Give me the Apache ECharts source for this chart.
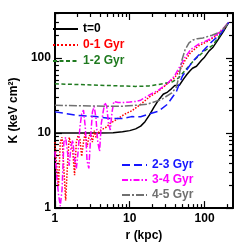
<!DOCTYPE html>
<html><head><meta charset="utf-8">
<script src="https://cdn.jsdelivr.net/npm/echarts@6/dist/echarts.min.js"></script>
<style>html,body{margin:0;padding:0;background:#fff}#c{width:247px;height:247px}</style>
</head><body><div id="c"></div>
<script>
// series names
const seriesNames = ['t=0', '0-1 Gyr', '1-2 Gyr', '2-3 Gyr', '3-4 Gyr', '4-5 Gyr'];
// tick values
const xMajor = [1, 10, 100];
const xMinor = [2, 3, 4, 5, 6, 7, 8, 9, 20, 30, 40, 50, 60, 70, 80, 90, 200];
const yMajor = [1, 10, 100];
const yMinor = [2, 3, 4, 5, 6, 7, 8, 9, 20, 30, 40, 50, 60, 70, 80, 90, 200, 300, 400];
// data: [r (kpc), K (keV cm^2)]
const t0 = [[1,10],[2,10],[4,10],[6,10.1],[8,10.4],[10,10.8],[12,11.4],[14,12.4],[16,14.2],[18.4,17.5],[21,22],[24.2,27.5],[28,33],[32,35.3],[36,39],[40,43.2],[46,43.5],[52,52],[58,60.6],[64,68],[69,73.3],[78,78],[91,93.6],[100,103],[115,125],[130,140],[151,175],[180,230],[210,300]];
const gyr01 = [[1.0,7.6],[1.056,3.68],[1.116,1.95],[1.179,7.6],[1.246,8.8],[1.316,3.38],[1.391,1.26],[1.469,3.68],[1.552,8.8],[1.64,9.3],[1.733,5.7],[1.83,2.75],[1.934,7.6],[2.043,9.3],[2.159,8.3],[2.28,4.9],[2.409,7.6],[2.545,10.1],[2.689,6.6],[2.841,8.8],[3.001,10.1],[3.171,7.6],[3.35,10.75],[3.539,8.8],[3.951,10.75],[4.41,11.4],[4.922,12.1],[5.494,13.6],[6.13,14.4],[7.23,16.1],[8.76,18.1],[10.6,19.8],[14,24.2],[18.4,30.5],[24.2,36.3],[31.9,45.8],[39.7,54.5],[48.2,72.7],[55.2,94.4],[65.1,119],[83.4,146],[110,168],[144.5,200],[180,245],[210,300]];
const gyr12 = [[1,45.4],[2,44.5],[4,43.5],[8,42.5],[12,42],[18,42.5],[28.6,45.8],[37.6,48.5],[45.5,55],[56.7,71],[72.6,94],[83,106],[100,125],[130,150],[165,210],[210,300]];
const gyr23 = [[1,19.2],[2.04,17.2],[3.54,16.6],[5.6,15.7],[8.07,15.7],[10.6,16.6],[14,16.5],[18.4,18.1],[24.2,19.6],[31.8,24.2],[41.9,35.6],[50.6,57.7],[58,70],[68.5,89],[83,109],[100,131],[126,167],[165,212],[210,300]];
const gyr34 = [[1.0,5.7],[1.056,2.75],[1.116,1.54],[1.179,1.06],[1.246,1.78],[1.316,7.6],[1.391,8.8],[1.469,5.7],[1.552,3.68],[1.64,6.6],[1.733,8.05],[1.83,4.5],[1.934,3.38],[2.043,5.7],[2.159,12.1],[2.28,18.1],[2.409,20.3],[2.545,12.1],[2.689,4.26],[2.841,3.38],[3.001,8.8],[3.171,19.2],[3.35,22.8],[3.539,15.7],[3.739,7.6],[3.951,5.7],[4.174,13.6],[4.41,19.2],[4.659,25.6],[4.922,22.8],[5.2,13.6],[5.494,11.0],[5.804,19.2],[6.13,26.4],[7,25.6],[8,25.6],[10,26],[12,26.5],[14,27.5],[18.4,32.3],[24.2,37.4],[31.9,45.8],[39.7,57.7],[48.2,81.7],[55.2,103],[65.1,130],[83.4,154],[109.8,173],[144.5,206],[180,253],[210,300]];
const gyr45 = [[1,23.5],[3,23],[8,22.8],[16.9,24.2],[26.3,28],[36.5,34.3],[42,41],[46,60],[50,95],[55,130],[62,160],[70,175],[80,182],[95,186],[126,202],[165,225],[210,300]];

const colors = ['#000000', '#ff0000', '#1f7a1f', '#1515ff', '#ff00ff', '#707070'];
const dashes = ['solid', 'dotted', [4, 2.5], [8, 4], [6, 2, 1.5, 2], [8, 2, 2, 2]];
const dataSets = [t0, gyr01, gyr12, gyr23, gyr34, gyr45];

const font = 'Liberation Sans, Arial, sans-serif';
function xAx(pos, major) {
  return {
    type: 'log', min: 1, max: 240, position: pos,
    axisLine: { show: major, onZero: false, lineStyle: { color: '#000', width: 2 } },
    axisTick: { show: true, inside: true, length: major ? 7 : 4, customValues: major ? xMajor : xMinor, lineStyle: { color: '#000', width: 1.2 } },
    axisLabel: { show: major && pos === 'bottom', customValues: xMajor, color: '#000', fontWeight: 'bold', fontSize: 12, fontFamily: font, margin: 5 },
    splitLine: { show: false }, minorTick: { show: false },
    name: (major && pos === 'bottom') ? 'r (kpc)' : '', nameLocation: 'middle', nameGap: 16,
    nameTextStyle: { color: '#000', fontWeight: 'bold', fontSize: 12, fontFamily: font }
  };
}
function yAx(pos, major) {
  return {
    type: 'log', min: 1, max: 400, position: pos,
    axisLine: { show: major, onZero: false, lineStyle: { color: '#000', width: 2 } },
    axisTick: { show: true, inside: true, length: major ? 7 : 4, customValues: major ? yMajor : yMinor, lineStyle: { color: '#000', width: 1.2 } },
    axisLabel: { show: major && pos === 'left', customValues: yMajor, color: '#000', fontWeight: 'bold', fontSize: 12, fontFamily: font, margin: 4 },
    splitLine: { show: false }, minorTick: { show: false },
    name: (major && pos === 'left') ? 'K (keV cm²)' : '', nameLocation: 'middle', nameGap: 19, nameRotate: 90,
    nameTextStyle: { color: '#000', fontWeight: 'bold', fontSize: 12, fontFamily: font }
  };
}

const series = seriesNames.map((n, i) => ({
  name: n, type: 'line', xAxisIndex: 0, yAxisIndex: 0, data: dataSets[i],
  symbol: 'none', showSymbol: false, smooth: false, animation: false,
  lineStyle: { color: colors[i], width: 1.5, type: dashes[i] },
  itemStyle: { color: colors[i] }
}));

function legendData(list) {
  return list.map(n => ({ name: n, textStyle: { color: colors[seriesNames.indexOf(n)] } }));
}
const legendBase = {
  orient: 'vertical', itemWidth: 25, itemHeight: 10, itemGap: 3, selectedMode: false,
  itemStyle: { color: 'rgba(0,0,0,0)', borderWidth: 0, opacity: 0 },
  textStyle: { fontWeight: 'bold', fontSize: 12, fontFamily: font, padding: [0, 0, 0, 0] }, padding: 0
};

const chart = echarts.init(document.getElementById('c'), null, { renderer: 'canvas' });
chart.setOption({
  animation: false,
  backgroundColor: '#fff',
  grid: { left: 34, right: 14, top: 13, bottom: 27, containLabel: false },
  xAxis: [xAx('bottom', true), xAx('bottom', false), xAx('top', true), xAx('top', false)],
  yAxis: [yAx('left', true), yAx('left', false), yAx('right', true), yAx('right', false)],
  legend: [
    Object.assign({}, legendBase, { left: 52, top: 23, itemGap: 4, data: legendData(['t=0', '0-1 Gyr', '1-2 Gyr']) }),
    Object.assign({}, legendBase, { left: 121, top: 159, data: legendData(['2-3 Gyr', '3-4 Gyr', '4-5 Gyr']) })
  ],
  series: series
});
</script></body></html>
